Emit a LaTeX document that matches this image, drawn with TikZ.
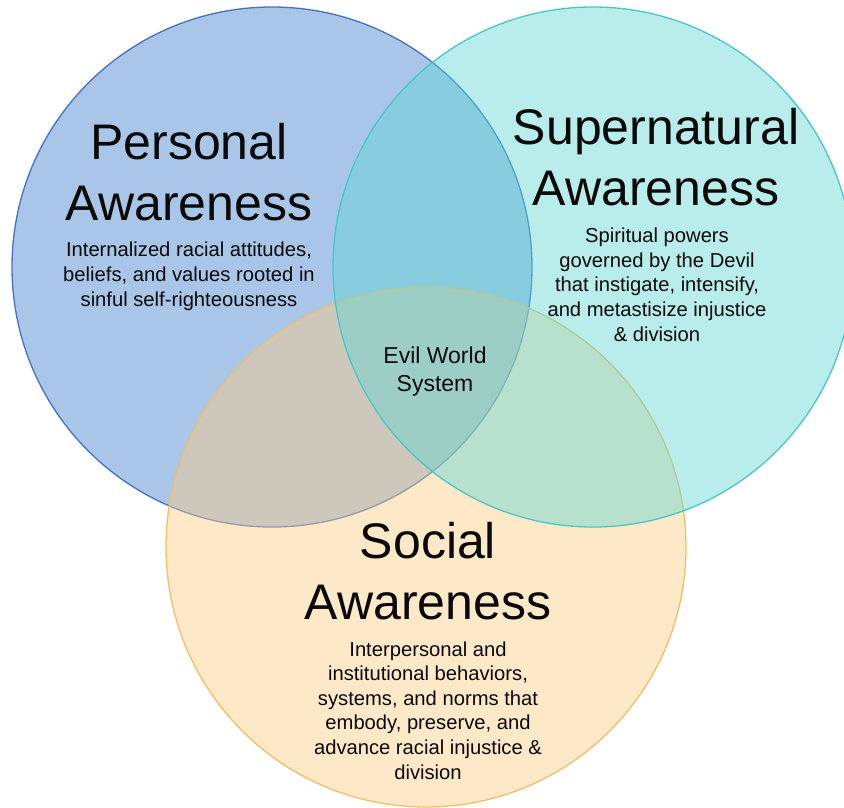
\documentclass[tikz,border=0pt]{standalone}
\usepackage{fontspec}
\setmainfont{Liberation Sans}
\definecolor{bluefill}{RGB}{169,197,232}
\definecolor{blueedge}{RGB}{68,114,196}
\definecolor{tealfill}{RGB}{95,215,213}
\definecolor{tealedge}{RGB}{70,200,200}
\definecolor{orangefill}{RGB}{251,204,133}
\definecolor{orangeedge}{RGB}{242,192,100}
\definecolor{txt}{RGB}{10,10,10}
\begin{document}
\begin{tikzpicture}[x=1pt,y=-1pt,
  title/.style={font=\fontsize{50}{61}\selectfont, align=center, anchor=base, inner sep=0pt, text=txt},
  desc/.style={font=\fontsize{20.2}{24.6}\selectfont, align=center, anchor=base, inner sep=0pt, text=txt},
  core/.style={font=\fontsize{23}{28}\selectfont, align=center, anchor=base, inner sep=0pt, text=txt},
  ring/.style={line width=1.3pt}]
\useasboundingbox (0,0) rectangle (844,808);
\fill[white] (0,0) rectangle (844,808);
\begin{scope}
\clip (0,0) rectangle (844,808);
\filldraw[ring, draw=blueedge, fill=bluefill] (272,267) circle (260pt);
\filldraw[ring, draw=orangeedge, fill=orangefill, fill opacity=0.45] (426,547) circle (260pt);
\filldraw[ring, draw=tealedge, fill=tealfill, fill opacity=0.44] (593,267) circle (260pt);
\end{scope}
% base anchor of a multi-line node = baseline of its last line
\node[title] (pt) at (189,220) {Personal\\Awareness};
\node[desc] (pd) at (189,306) {Internalized racial attitudes,\\beliefs, and values rooted in\\sinful self-righteousness};
\node[title] (st) at (656,205) {Supernatural\\Awareness};
\node[desc] (sd) at (657,341) {Spiritual powers\\governed by the Devil\\that instigate, intensify,\\and metastisize injustice\\\& division};
\node[title] (ot) at (428,619) {Social\\Awareness};
\node[desc] (od) at (428,779) {Interpersonal and\\institutional behaviors,\\systems, and norms that\\embody, preserve, and\\advance racial injustice \&\\division};
\node[core] (ev) at (435,391) {Evil World\\System};
\end{tikzpicture}
\end{document}
